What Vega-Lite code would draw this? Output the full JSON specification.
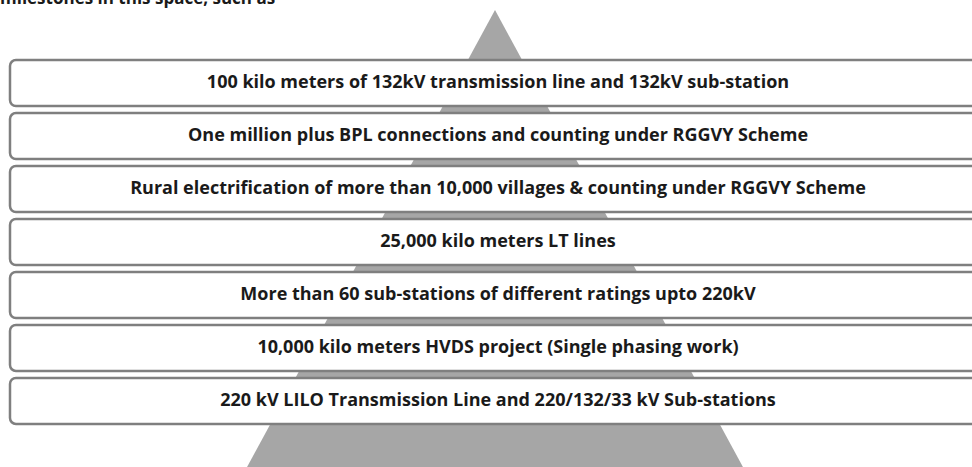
{
  "$schema": "https://vega.github.io/schema/vega-lite/v6.json",
  "width": 972,
  "height": 467,
  "autosize": {"type": "fit", "contains": "padding"},
  "padding": 0,
  "background": "white",
  "config": {"view": {"stroke": null}},
  "resolve": {"scale": {"y": "independent"}},
  "layer": [
    {
      "data": {"values": [
        {"ty": 10, "tl": 495, "tr": 495},
        {"ty": 480, "tl": 240, "tr": 750}
      ]},
      "mark": {"type": "area", "orient": "horizontal", "color": "#a6a6a6", "clip": true},
      "encoding": {
        "y": {"field": "ty", "type": "quantitative", "scale": {"domain": [0, 467], "reverse": true, "nice": false, "zero": false}, "axis": null},
        "x": {"field": "tl", "type": "quantitative", "scale": {"domain": [0, 972], "nice": false, "zero": false}, "axis": null},
        "x2": {"field": "tr"}
      }
    },
    {
      "data": {"values": [{"caption": "milestones in this space, such as"}]},
      "mark": {"type": "text", "align": "left", "baseline": "alphabetic", "font": "Open Sans", "fontWeight": "bold", "fontSize": 17, "color": "#1a1a1a", "clip": true},
      "encoding": {
        "text": {"field": "caption"},
        "x": {"datum": 0, "type": "quantitative"},
        "y": {"datum": 4, "type": "quantitative", "scale": {"domain": [0, 467], "reverse": true, "nice": false, "zero": false}, "axis": null}
      }
    },
    {
      "data": {"name": "boxes", "values": [
        {"label": "100 kilo meters of 132kV transmission line and 132kV sub-station"},
        {"label": "One million plus BPL connections and counting under RGGVY Scheme"},
        {"label": "Rural electrification of more than 10,000 villages & counting under RGGVY Scheme"},
        {"label": "25,000 kilo meters LT lines"},
        {"label": "More than 60 sub-stations of different ratings upto 220kV"},
        {"label": "10,000 kilo meters HVDS project (Single phasing work)"},
        {"label": "220 kV LILO Transmission Line and 220/132/33 kV Sub-stations"}
      ]},
      "layer": [
        {
          "mark": {"type": "rect", "fill": "white", "stroke": "#7f7f7f", "strokeWidth": 2.5, "cornerRadius": 6, "clip": true},
          "encoding": {
            "y": {"field": "label", "type": "nominal", "sort": null, "scale": {"range": [60, 424], "paddingInner": 0.13, "paddingOuter": 0}, "axis": null},
            "x": {"datum": 10, "type": "quantitative"},
            "x2": {"datum": 1000}
          }
        },
        {
          "mark": {"type": "text", "font": "Open Sans", "fontWeight": "bold", "fontSize": 18, "color": "#1a1a1a", "baseline": "middle", "align": "center"},
          "encoding": {
            "y": {"field": "label", "type": "nominal", "sort": null, "scale": {"range": [60, 424], "paddingInner": 0.13, "paddingOuter": 0}, "axis": null},
            "x": {"datum": 498, "type": "quantitative"},
            "text": {"field": "label"}
          }
        }
      ]
    }
  ]
}
